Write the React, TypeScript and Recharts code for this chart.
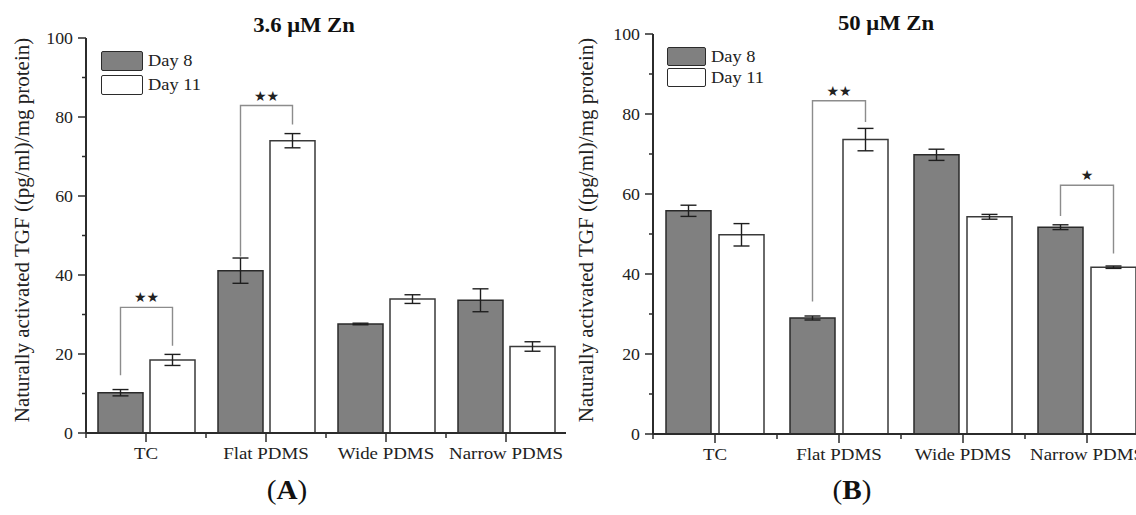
import React from 'react';
import { BarChart, Bar, XAxis, YAxis, ErrorBar, Legend } from 'recharts';

const CATEGORIES = ['TC', 'Flat PDMS', 'Wide PDMS', 'Narrow PDMS'];
const Y_TICKS = [0, 10, 20, 30, 40, 50, 60, 70, 80, 90, 100];

// panel A, 3.6 uM Zn
const A_DAY8 = [10.2, 41.1, 27.6, 33.6];
const A_DAY8_ERR = [0.8, 3.2, 0.2, 2.9];
const A_DAY11 = [18.5, 74.0, 33.9, 21.9];
const A_DAY11_ERR = [1.4, 1.8, 1.1, 1.2];
const A_BRACKET_TOP = [31.8, 82.9, null, null];
const A_BRACKET_LEFT = [14.6, 44.7, null, null];
const A_BRACKET_RIGHT = [22.1, 78.1, null, null];
const A_STARS = ['**', '**', '', ''];

// panel B, 50 uM Zn
const B_DAY8 = [55.8, 29.0, 69.8, 51.7];
const B_DAY8_ERR = [1.4, 0.5, 1.4, 0.6];
const B_DAY11 = [49.8, 73.6, 54.3, 41.7];
const B_DAY11_ERR = [2.8, 2.8, 0.6, 0.3];
const B_BRACKET_TOP = [null, 83.3, null, 62.2];
const B_BRACKET_LEFT = [null, 33.1, null, 54.5];
const B_BRACKET_RIGHT = [null, 78.0, null, 45.1];
const B_STARS = ['', '**', '', '*'];

const SERIF = '"Liberation Serif", "Times New Roman", serif';
const SX = 1.08; // the source figure is a little stretched sideways
const INK = '#2b2b2b';
const Y_LABEL = 'Naturally activated TGF ((pg/ml)/mg protein)';

const buildRows = (d8, e8, d11, e11, top, left, right, stars) =>
  CATEGORIES.map((name, i) => ({
    name,
    d8: d8[i],
    e8: e8[i],
    d11: d11[i],
    e11: e11[i],
    bTop: top[i],
    bLeft: left[i],
    bRight: right[i],
    stars: stars[i],
  }));

const ROWS_A = buildRows(A_DAY8, A_DAY8_ERR, A_DAY11, A_DAY11_ERR, A_BRACKET_TOP, A_BRACKET_LEFT, A_BRACKET_RIGHT, A_STARS);
const ROWS_B = buildRows(B_DAY8, B_DAY8_ERR, B_DAY11, B_DAY11_ERR, B_BRACKET_TOP, B_BRACKET_LEFT, B_BRACKET_RIGHT, B_STARS);

const makeYTick = (props: any) => {
  const { x, y, payload } = props;
  const major = payload.value % 20 === 0;
  return (
    <g>
      <line x1={x - (major ? 8 : 4)} x2={x} y1={y} y2={y} stroke={INK} strokeWidth={1.5} />
      {major && (
        <text
          transform={`translate(${x - 13},${y}) scale(${SX},1)`}
          textAnchor="end"
          dy="0.35em"
          fontSize={16.5}
          fontFamily={SERIF}
          fill="#222"
        >
          {payload.value}
        </text>
      )}
    </g>
  );
};

const makeXTick = (band: number) => (props: any) => {
  const { x, y, payload } = props;
  return (
    <g>
      <line x1={x} x2={x} y1={y} y2={y + 9} stroke={INK} strokeWidth={1.5} />
      <line x1={x - band / 2} x2={x - band / 2} y1={y} y2={y + 5} stroke={INK} strokeWidth={1.5} />
      <text
        transform={`translate(${x},${y + 26}) scale(${SX},1)`}
        textAnchor="middle"
        fontSize={17.5}
        fontFamily={SERIF}
        fill="#222"
      >
        {payload.value}
      </text>
    </g>
  );
};

// significance bracket, hung on the Day 11 bar so it follows the bar scale
const makeBracket = (rows: any[], gap: number) => (props: any) => {
  const { index } = props;
  const row = rows[index];
  if (!row || row.bTop == null) return null;
  const x = Number(props.x);
  const y = Number(props.y);
  const w = Number(props.width);
  const h = Number(props.height);
  const base = y + h;
  const k = h / row.d11;
  const py = (v: number) => base - v * k;
  const xr = x + w / 2;
  const xl = xr - w - gap;
  const top = py(row.bTop);
  return (
    <g>
      <path
        d={`M${xl},${py(row.bLeft)} L${xl},${top} L${xr},${top} L${xr},${py(row.bRight)}`}
        fill="none"
        stroke="#8c8c8c"
        strokeWidth={1.4}
      />
      <text
        x={(xl + xr) / 2}
        y={top - 5}
        textAnchor="middle"
        fontSize={14}
        fontFamily='"DejaVu Sans", sans-serif'
        fill="#222"
      >
        {row.stars.replace(/\*/g, '\u2605')}
      </text>
    </g>
  );
};

const yLabel = (dx: number, cyAbs: number) => (props: any) => {
  const vb = props.viewBox || {};
  const cx = (vb.x || 0) + dx;
  return (
    <text
      transform={`translate(${cx},${cyAbs}) rotate(-90)`}
      textAnchor="middle"
      dy="0.35em"
      fontSize={21}
      fontFamily={SERIF}
      fill="#222"
    >
      {Y_LABEL}
    </text>
  );
};

const makeLegend = (boxW: number, boxH: number, rowH: number) => () => (
  <div style={{ fontFamily: SERIF, fontSize: 17, color: '#222' }}>
    {[
      { label: 'Day 8', fill: '#808080' },
      { label: 'Day 11', fill: '#ffffff' },
    ].map((it) => (
      <div key={it.label} style={{ display: 'flex', alignItems: 'center', height: rowH }}>
        <div
          style={{
            width: boxW,
            height: boxH,
            boxSizing: 'border-box',
            border: `1.5px solid ${INK}`,
            borderRadius: 2,
            background: it.fill,
          }}
        />
        <span style={{ marginLeft: 5, display: 'inline-block', transform: `scaleX(${SX})`, transformOrigin: 'left center' }}>
          {it.label}
        </span>
      </div>
    ))}
  </div>
);

type PanelProps = {
  rows: any[];
  width: number;
  margin: { top: number; right: number; bottom: number; left: number };
  yWidth: number;
  gap: number;
  legendPos: { left: number; top: number };
  legendBox: [number, number, number];
  labelDx: number;
};

const Panel = ({ rows, width, margin, yWidth, gap, legendPos, legendBox, labelDx }: PanelProps) => {
  const band = (width - margin.left - margin.right - yWidth) / CATEGORIES.length;
  return (
    <BarChart width={width} height={515} data={rows} margin={margin} barGap={gap} barSize={45}>
      <XAxis
        dataKey="name"
        height={30}
        axisLine={{ stroke: INK, strokeWidth: 2 }}
        tickLine={false}
        tickSize={0}
        tickMargin={0}
        tick={makeXTick(band)}
        interval={0}
      />
      <XAxis xAxisId="top" dataKey="name" orientation="top" height={0} tick={false} tickLine={false} axisLine={{ stroke: INK, strokeWidth: 2 }} />
      <YAxis
        domain={[0, 100]}
        ticks={Y_TICKS}
        width={yWidth}
        axisLine={{ stroke: INK, strokeWidth: 2 }}
        tickLine={false}
        tickSize={0}
        tickMargin={0}
        tick={makeYTick}
        interval={0}
        label={{ value: Y_LABEL, content: yLabel(labelDx, 230) }}
      />
      <YAxis yAxisId="right" orientation="right" domain={[0, 100]} width={0} tick={false} tickLine={false} axisLine={{ stroke: INK, strokeWidth: 2 }} />
      <Legend
        layout="vertical"
        align="center"
        verticalAlign="middle"
        wrapperStyle={{ left: legendPos.left, top: legendPos.top, width: 'auto' }}
        content={makeLegend(legendBox[0], legendBox[1], legendBox[2])}
      />
      <Bar dataKey="d8" name="Day 8" fill="#808080" stroke="#2a2a2a" strokeWidth={1.5} isAnimationActive={false}>
        <ErrorBar dataKey="e8" width={8} stroke="#1e1e1e" strokeWidth={1.4} />
      </Bar>
      <Bar
        dataKey="d11"
        name="Day 11"
        fill="#ffffff"
        stroke="#3a3a3a"
        strokeWidth={1.5}
        isAnimationActive={false}
        label={makeBracket(rows, gap)}
      >
        <ErrorBar dataKey="e11" width={8} stroke="#1e1e1e" strokeWidth={1.4} />
      </Bar>
    </BarChart>
  );
};

const titleStyle: React.CSSProperties = {
  position: 'absolute',
  fontFamily: SERIF,
  fontWeight: 'bold',
  fontSize: 21,
  lineHeight: '24px',
  color: '#111',
  transform: `translateX(-50%) scaleX(${SX})`,
  whiteSpace: 'nowrap',
};

const captionStyle: React.CSSProperties = {
  position: 'absolute',
  fontFamily: SERIF,
  fontSize: 27,
  lineHeight: '30px',
  color: '#111',
  transform: `translateX(-50%) scaleX(${SX})`,
  whiteSpace: 'nowrap',
};

export default function App() {
  return (
    <div style={{ position: 'absolute', left: 0, top: 0, width: 1136, height: 515, overflow: 'hidden', background: '#fff' }}>
      <div style={{ position: 'absolute', left: 0, top: 0 }}>
        <Panel
          rows={ROWS_A}
          width={580}
          margin={{ top: 38, right: 14, bottom: 52, left: 0 }}
          yWidth={86}
          gap={7}
          legendPos={{ left: 101, top: 49 }}
          legendBox={[42, 20, 24]}
          labelDx={22}
        />
      </div>
      <div style={{ position: 'absolute', left: 570, top: 0 }}>
        <Panel
          rows={ROWS_B}
          width={590}
          margin={{ top: 34, right: 11, bottom: 51, left: 0 }}
          yWidth={83}
          gap={8}
          legendPos={{ left: 97, top: 46 }}
          legendBox={[39, 19, 21]}
          labelDx={16}
        />
      </div>
      <div style={{ ...titleStyle, left: 304, top: 13 }}>3.6 μM Zn</div>
      <div style={{ ...titleStyle, left: 886, top: 11 }}>50 μM Zn</div>
      <div style={{ ...captionStyle, left: 287, top: 475 }}>
        (<b>A</b>)
      </div>
      <div style={{ ...captionStyle, left: 852, top: 475 }}>
        (<b>B</b>)
      </div>
    </div>
  );
}
